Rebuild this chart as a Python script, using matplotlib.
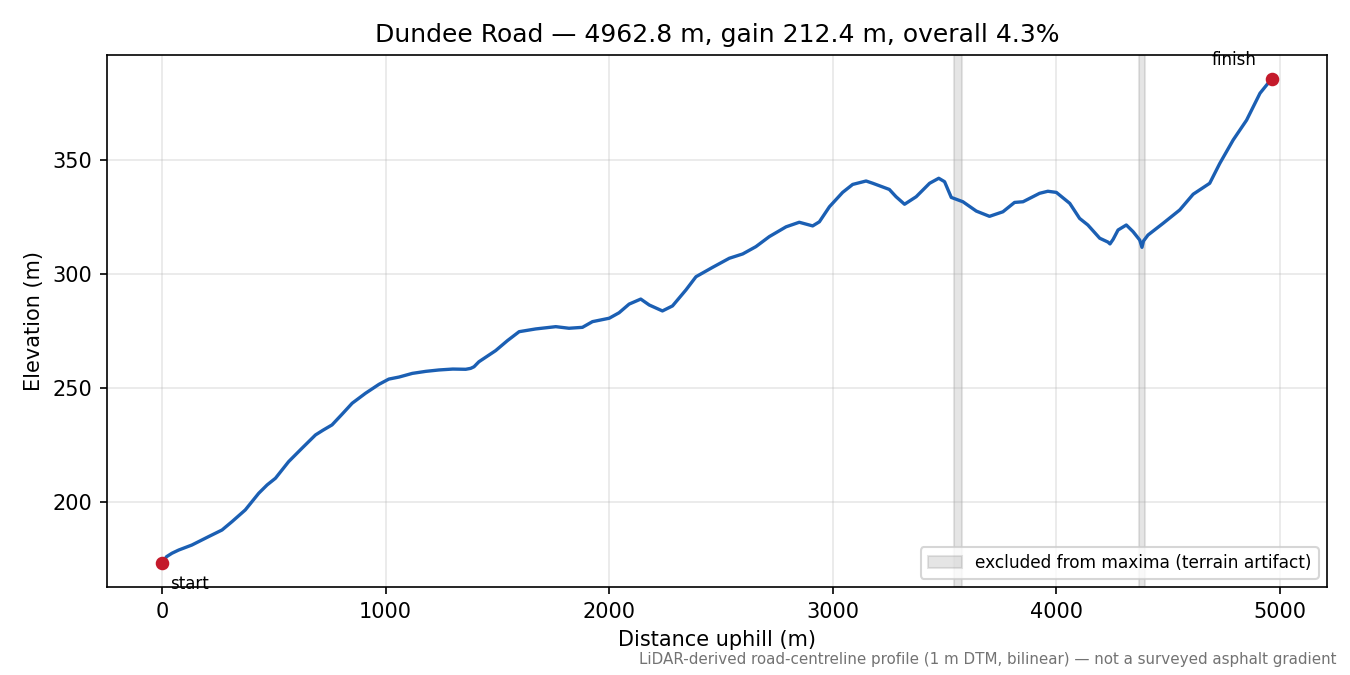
import matplotlib
matplotlib.use("Agg")
import matplotlib.pyplot as plt
import numpy as np

plt.rcParams['font.family'] = ['DejaVu Sans']

# Profile
distance_m = [0, 20, 44, 74, 133, 208, 268, 313, 372, 432, 470, 507, 566, 626,
              686, 720, 760, 805, 850, 910, 970, 1014, 1060, 1119, 1180, 1238,
              1300, 1358, 1380, 1395, 1417, 1492, 1545, 1597, 1671, 1761, 1820,
              1880, 1925, 2000, 2044, 2089, 2141, 2179, 2238, 2283, 2343, 2388,
              2462, 2537, 2597, 2656, 2716, 2791, 2850, 2910, 2940, 2985, 3044,
              3089, 3149, 3179, 3253, 3283, 3321, 3373, 3433, 3474, 3500, 3530,
              3582, 3642, 3701, 3761, 3813, 3851, 3925, 3962, 4000, 4060, 4104,
              4141, 4194, 4231, 4240, 4254, 4276, 4313, 4343, 4373, 4383, 4390,
              4410, 4477, 4552, 4612, 4686, 4731, 4791, 4851, 4911, 4962.8]
elevation_m = [173.2, 176.0, 177.5, 178.9, 181.1, 184.8, 187.7, 191.4, 196.5,
               203.8, 207.5, 210.4, 217.7, 223.6, 229.4, 231.5, 233.8, 238.5,
               243.3, 247.7, 251.6, 253.9, 254.8, 256.4, 257.3, 257.9, 258.3,
               258.2, 258.6, 259.3, 261.5, 266.4, 270.8, 274.7, 275.9, 276.9,
               276.2, 276.6, 279.1, 280.6, 283.0, 286.8, 289.0, 286.4, 283.8,
               286.0, 293.0, 298.8, 302.9, 306.9, 308.8, 312.0, 316.4, 320.7,
               322.7, 321.1, 322.9, 329.5, 335.8, 339.3, 340.8, 339.8, 337.1,
               333.9, 330.6, 333.9, 339.8, 342.0, 340.5, 333.6, 331.7, 327.6,
               325.3, 327.3, 331.4, 331.7, 335.4, 336.3, 335.8, 331.0, 324.4,
               321.5, 315.7, 314.0, 313.2, 315.2, 319.3, 321.5, 318.6, 314.9,
               311.7, 314.5, 317.1, 322.2, 328.1, 335.0, 339.8, 348.5, 358.8,
               367.5, 379.3, 385.6]

# spans dropped when looking for maxima
excluded_spans = [(3542, 3577), (4368, 4395)]

title = "Dundee Road \u2014 4962.8 m, gain 212.4 m, overall 4.3%"
note = ("LiDAR-derived road-centreline profile (1 m DTM, bilinear) \u2014 "
        "not a surveyed asphalt gradient")

fig, ax = plt.subplots(figsize=(9, 4.5), dpi=150)
fig.subplots_adjust(left=0.079, right=0.983, top=0.919, bottom=0.13)

for i, (a, b) in enumerate(excluded_spans):
    ax.axvspan(a, b, color="0.5", alpha=0.2,
               label="excluded from maxima (terrain artifact)" if i == 0 else None)

ax.plot(distance_m, elevation_m, color="#1b5fb3", lw=1.6)
ax.plot([distance_m[0], distance_m[-1]], [elevation_m[0], elevation_m[-1]],
        "o", color="#c41a2b", ms=5.5, zorder=5)

ax.annotate("start", (distance_m[0], elevation_m[0]), xytext=(4, -10),
            textcoords="offset points", fontsize=8, va="center")
ax.annotate("finish", (distance_m[-1], elevation_m[-1]), xytext=(-7, 9),
            textcoords="offset points", fontsize=8, ha="right", va="center")

ax.grid(True, alpha=0.3)
ax.set_xlabel("Distance uphill (m)")
ax.set_ylabel("Elevation (m)")
ax.set_title(title)
ax.legend(loc="lower right", fontsize=8.15)

fig.text(0.99, 0.012, note, ha="right", va="bottom", fontsize=7.25, color="0.45")

fig.savefig("out.png", dpi=150)
